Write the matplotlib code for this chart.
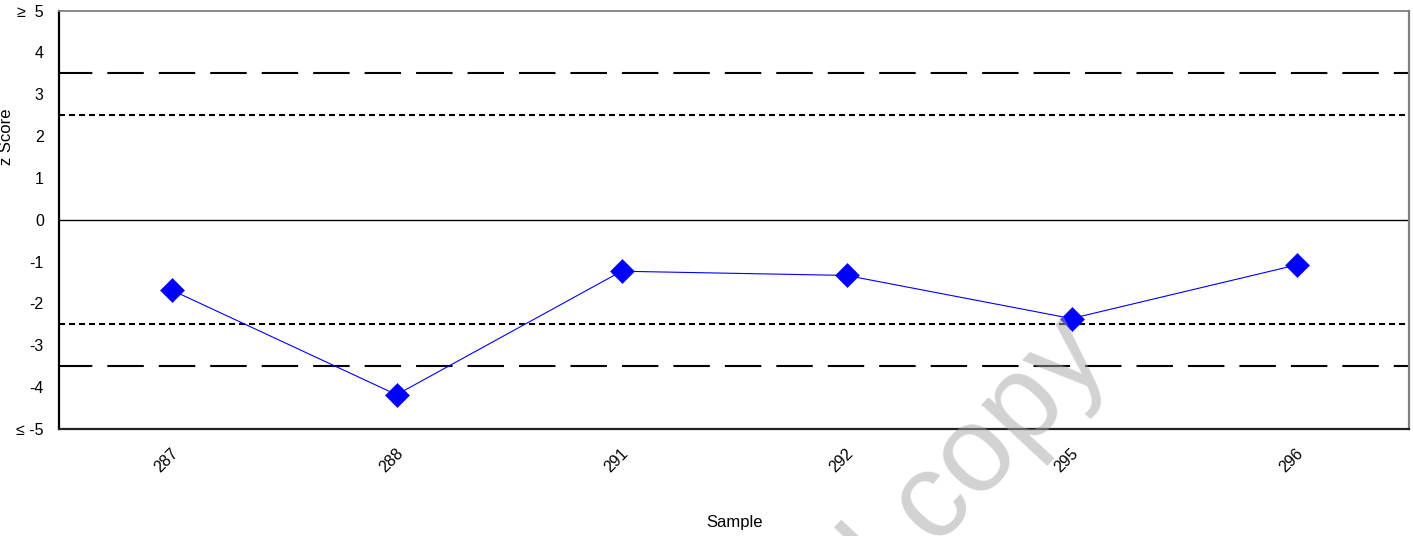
import matplotlib
matplotlib.use("Agg")
import matplotlib.pyplot as plt
from matplotlib.transforms import ScaledTranslation

plt.rcParams["font.family"] = ["Liberation Sans", "DejaVu Sans"]

# z-scores per sample
samples = ["287", "288", "291", "292", "295", "296"]
z_scores = [-1.68, -4.18, -1.23, -1.33, -2.36, -1.08]

y_ticks = [-5, -4, -3, -2, -1, 0, 1, 2, 3, 4, 5]
y_tick_labels = ["≤ -5", "-4", "-3", "-2", "-1", "0", "1", "2", "3", "4", "≥  5"]

action_limit = 3.5
warning_limit = 2.5

fig = plt.figure(figsize=(14.13, 5.36), dpi=100)
ax = fig.add_axes([0.0418, 0.1996, 0.9554, 0.7808])

x = list(range(len(samples)))

# control limits
for lim in (action_limit, -action_limit):
    ax.axhline(lim, color="black", lw=1.5, linestyle=(1.5, (17.5, 7.2)), zorder=1)
for lim in (warning_limit, -warning_limit):
    ax.axhline(lim, color="black", lw=1.5, linestyle=(0, (2.9, 1.9)), zorder=1)
ax.axhline(0, color="black", lw=1.0, zorder=1)

ax.plot(x, z_scores, color="blue", lw=0.8, marker="D", markersize=12.5,
        markerfacecolor="blue", markeredgecolor="blue", markeredgewidth=0.4, zorder=3)

ax.set_xlim(-0.5, len(samples) - 0.5)
ax.set_ylim(-5, 5)
ax.set_yticks(y_ticks)
ax.set_yticklabels(y_tick_labels)
ax.set_xticks(x)
ax.set_xticklabels(samples, rotation=45, ha="center", va="top")

ax.tick_params(axis="both", length=0, labelsize=11.5)
ax.tick_params(axis="y", pad=11)
ax.tick_params(axis="x", pad=12)
shift = ScaledTranslation(-5 / 100, 0, fig.dpi_scale_trans)
for lbl in ax.get_xticklabels():
    lbl.set_transform(lbl.get_transform() + shift)

ax.set_xlabel("Sample", fontsize=12)
ax.xaxis.set_label_coords(0.5, -0.205)
ax.set_ylabel("z Score", fontsize=12)
ax.yaxis.set_label_coords(-0.0333, 0.698)

ax.spines["left"].set_color("black")
ax.spines["left"].set_linewidth(1.6)
ax.spines["bottom"].set_color("#222222")
ax.spines["bottom"].set_linewidth(1.6)
ax.spines["top"].set_color("#808080")
ax.spines["top"].set_linewidth(1.3)
ax.spines["right"].set_color("#808080")
ax.spines["right"].set_linewidth(1.6)

# document watermark
fig.text(0.7873, 0.3274, "Uncontrolled copy", fontsize=88, color="#a6a6a6",
         alpha=0.5, rotation=47, rotation_mode="anchor", ha="right",
         va="baseline", zorder=10)

fig.savefig("out.png", dpi=100)
